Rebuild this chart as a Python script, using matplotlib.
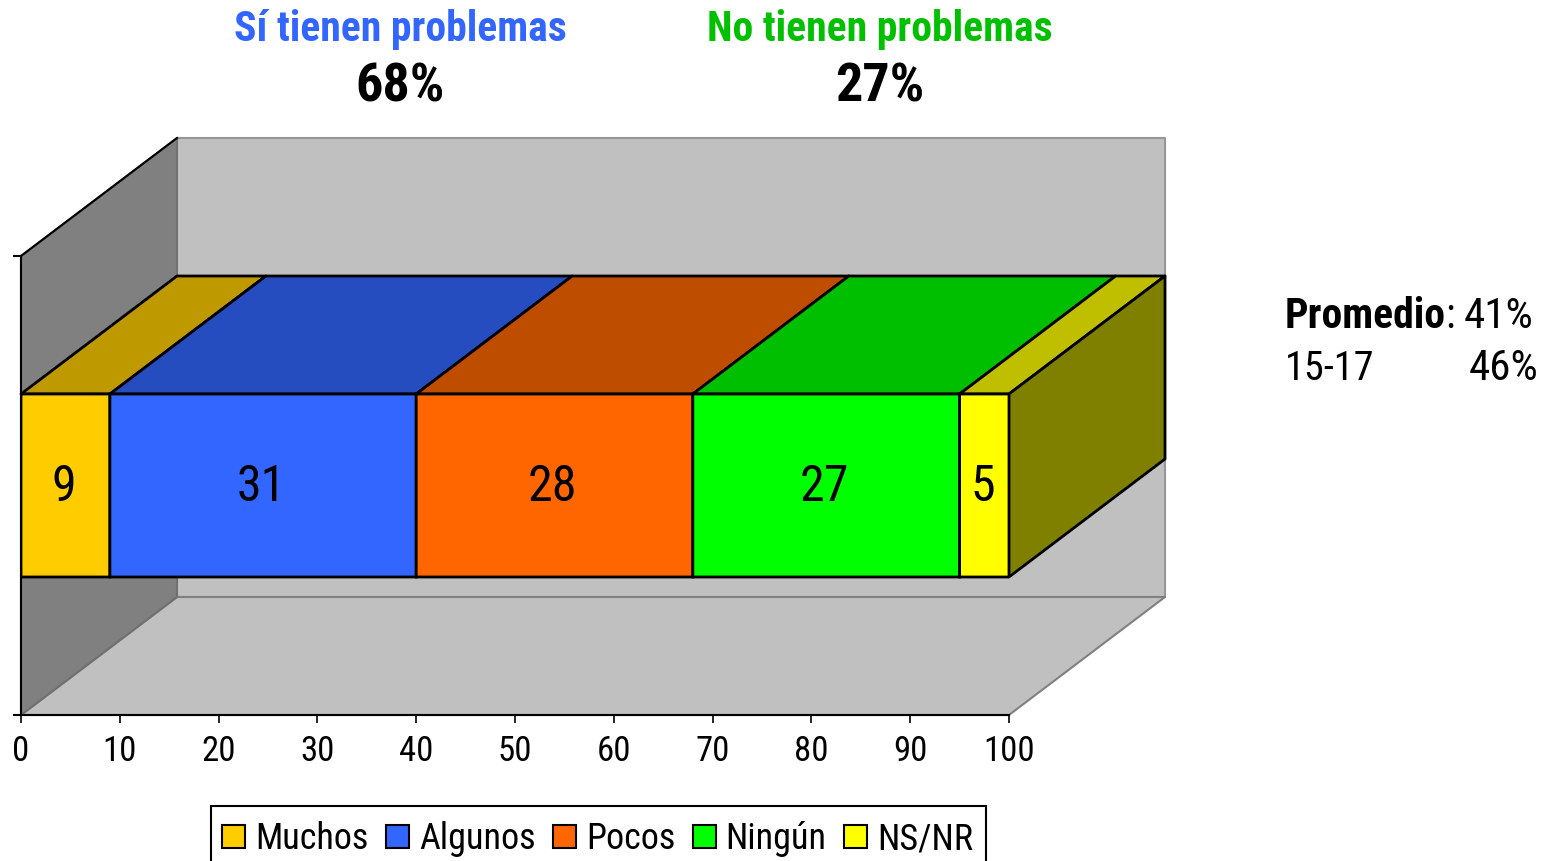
import matplotlib
matplotlib.use("Agg")
import matplotlib.pyplot as plt
from matplotlib.patches import Patch, Rectangle

plt.rcParams['font.family'] = ['Roboto Condensed', 'Liberation Sans', 'DejaVu Sans']

categorias = ["Muchos", "Algunos", "Pocos", "Ningún", "NS/NR"]
valores = [9, 31, 28, 27, 5]
colores = ["#FFCC00", "#3366FF", "#FF6600", "#00FF00", "#FFFF00"]
colores_top = ["#BF9900", "#264DBF", "#BF4D00", "#00BF00", "#BFBF00"]
color_lado = "#808000"
x_ticks = [0, 10, 20, 30, 40, 50, 60, 70, 80, 90, 100]

W, H = 1556, 861
fig = plt.figure(figsize=(W / 100, H / 100), dpi=100)
ax = fig.add_axes([21 / W, 1 - 715 / H, 988 / W, 459 / H])
ax.set_xlim(0, 100)
ax.set_ylim(0, 1)
ax.patch.set_visible(False)

# profundidad del efecto 3D, en unidades de los ejes
dx = 156 / 9.88
dy = 118 / 459
y0, y1 = 138 / 459, 321 / 459


def caja(pts, fc, ec, z, lw=1.5):
    xs = [p[0] for p in pts]
    ys = [p[1] for p in pts]
    ax.fill(xs, ys, fc=fc, ec=ec, lw=lw, zorder=z, clip_on=False, joinstyle='round')


# paredes y piso
caja([(dx, dy), (100 + dx, dy), (100 + dx, 1 + dy), (dx, 1 + dy)], "#C0C0C0", "#969696", 1)
caja([(0, 0), (100, 0), (100 + dx, dy), (dx, dy)], "#C0C0C0", "#808080", 1)
caja([(0, 0), (dx, dy), (dx, 1 + dy), (0, 1)], "#808080", "#707070", 1)
ax.plot([0, dx], [1, 1 + dy], color="black", lw=1.5, zorder=2, clip_on=False)

# barra apilada
izq = 0
for nombre, v, c, ct in zip(categorias, valores, colores, colores_top):
    caja([(izq, y1), (izq + v, y1), (izq + v + dx, y1 + dy), (izq + dx, y1 + dy)], ct, "black", 3, 2)
    ax.barh((y0 + y1) / 2, v, height=y1 - y0, left=izq, color=c, edgecolor="black", lw=2, zorder=5, snap=False)
    ax.text(izq + v / 2 - 0.2, (y0 + y1) / 2 + 0.007, str(v), ha='center', va='center_baseline', fontsize=36, zorder=6)
    izq += v
caja([(izq, y0), (izq + dx, y0 + dy), (izq + dx, y1 + dy), (izq, y1)], color_lado, "black", 4, 2)

# ejes
for s in ['top', 'right']:
    ax.spines[s].set_visible(False)
for s in ['left', 'bottom']:
    ax.spines[s].set_linewidth(1.5)
    ax.spines[s].set_zorder(7)
ax.set_xticks(x_ticks)
ax.set_yticks([0, 1])
ax.set_yticklabels([])
ax.tick_params(axis='x', labelsize=25, length=6, width=1.2, pad=8.5)
ax.tick_params(axis='y', length=6, width=1.5)

# titulos
def px(x, y):
    return x / W, 1 - y / H


fig.text(*px(400, 29), "Sí tienen problemas", color="#3366FF", fontsize=30, fontweight='bold', ha='center', va='center')
fig.text(*px(400, 87), "68%", color="black", fontsize=39, fontweight='bold', ha='center', va='center')
fig.text(*px(880, 29), "No tienen problemas", color="#00C000", fontsize=30, fontweight='bold', ha='center', va='center')
fig.text(*px(880, 87), "27%", color="black", fontsize=39, fontweight='bold', ha='center', va='center')

fig.text(*px(1285, 317), "Promedio", fontsize=30, fontweight='bold', va='center')
fig.text(*px(1445, 317), ":", fontsize=30, va='center')
fig.text(*px(1464, 317), "41%", fontsize=31, va='center')
fig.text(*px(1285, 368), "15-17", fontsize=29, va='center')
fig.text(*px(1469, 368), "46%", fontsize=31, va='center')

# leyenda: el marco va aparte porque se sale por abajo
fig.add_artist(Rectangle(px(211, 870), 775 / W, 64 / H, transform=fig.transFigure,
                         fc="white", ec="black", lw=1.5))
handles = [Patch(facecolor=c, edgecolor="black", lw=1.5) for c in colores]
leg = fig.legend(handles, categorias, loc='upper left', bbox_to_anchor=px(207, 806), ncol=5,
                 fontsize=26, frameon=False,
                 handlelength=0.64, handleheight=0.64, handletextpad=0.27, columnspacing=0.485,
                 borderpad=0.42, borderaxespad=0, labelspacing=0)

fig.savefig("out.png", dpi=100)
